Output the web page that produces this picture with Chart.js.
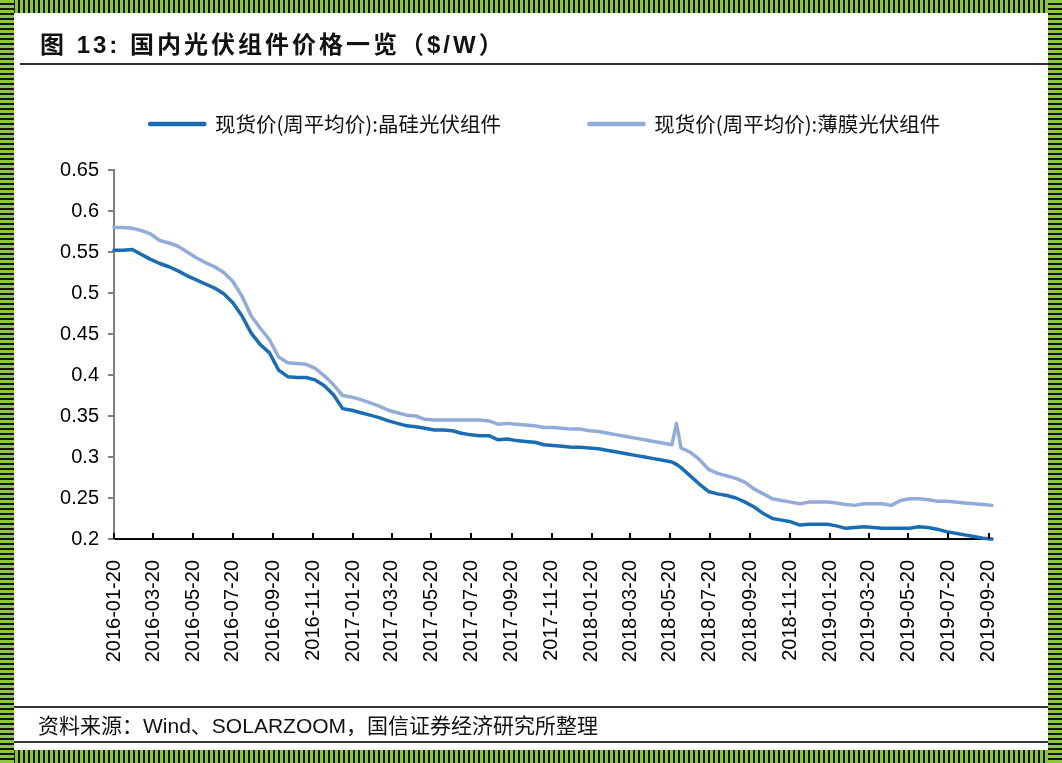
<!DOCTYPE html>
<html>
<head>
<meta charset="utf-8">
<script src="https://cdn.jsdelivr.net/npm/chart.js@4.4.0/dist/chart.umd.min.js"></script>
<style>
  html, body { margin: 0; padding: 0; background: #fff; }
  #wrap { position: relative; width: 1062px; height: 763px; overflow: hidden; background: #fff;
          font-family: "Liberation Sans", "Noto Sans CJK SC", sans-serif; }
  #chart { position: absolute; left: 0; top: 0; }
  .band { position: absolute; }
  #bTop { left: 0; top: 0; width: 1062px; height: 13px;
          background: repeating-linear-gradient(90deg, #8cc63f 0 3px, #151515 3px 5px); }
  #bBot { left: 0; top: 750px; width: 1062px; height: 13px;
          background: repeating-linear-gradient(90deg, #8cc63f 0 3px, #151515 3px 5px); }
  #bLeft { left: 0; top: 0; width: 14px; height: 763px;
           background: repeating-linear-gradient(180deg, #8cc63f 0 3px, #151515 3px 5px); }
  #bRight { left: 1048px; top: 0; width: 14px; height: 763px;
            background: repeating-linear-gradient(180deg, #8cc63f 0 3px, #151515 3px 5px); }
  .rule { position: absolute; height: 1.5px; background: #333; }
  #title { position: absolute; left: 40px; top: 25px; font-size: 24px; font-weight: bold;
           letter-spacing: 3px; color: #111; white-space: nowrap; }
  #source { position: absolute; left: 38px; top: 711px; font-size: 21px; line-height: 26px; color: #111;
            white-space: nowrap; font-family: "Noto Sans CJK SC", sans-serif; }
  #source .lat { font-family: "Liberation Sans", sans-serif; }
</style>
</head>
<body>
<div id="wrap">
  <canvas id="chart" width="1062" height="763"></canvas>
  <div id="title">图 13: 国内光伏组件价格一览（$/W）</div>
  <div class="rule" style="left:20px; top:63px; width:1028px;"></div>
  <div class="rule" style="left:14px; top:706px; width:1034px;"></div>
  <div id="source">资料来源：<span class="lat">Wind</span>、<span class="lat">SOLARZOOM</span>，国信证券经济研究所整理</div>
  <div class="rule" style="left:14px; top:741px; width:1034px;"></div>
  <div class="band" id="bTop"></div>
  <div class="band" id="bBot"></div>
  <div class="band" id="bLeft"></div>
  <div class="band" id="bRight"></div>
</div>
<script>
// weekly spot price, sampled every two weeks ($/W)
const dates = [
  '2016-01-20','2016-02-03','2016-02-17','2016-03-02','2016-03-16','2016-03-30','2016-04-13','2016-04-27',
  '2016-05-11','2016-05-25','2016-06-08','2016-06-22','2016-07-06','2016-07-20','2016-08-03','2016-08-17',
  '2016-08-31','2016-09-14','2016-09-28','2016-10-12','2016-10-26','2016-11-09','2016-11-23','2016-12-07',
  '2016-12-21','2017-01-04','2017-01-18','2017-02-01','2017-02-15','2017-03-01','2017-03-15','2017-03-29',
  '2017-04-12','2017-04-26','2017-05-10','2017-05-24','2017-06-07','2017-06-21','2017-07-05','2017-07-19',
  '2017-08-02','2017-08-16','2017-08-30','2017-09-13','2017-09-27','2017-10-11','2017-10-25','2017-11-08',
  '2017-11-22','2017-12-06','2017-12-20','2018-01-03','2018-01-17','2018-01-31','2018-02-14','2018-02-28',
  '2018-03-14','2018-03-28','2018-04-11','2018-04-25','2018-05-09','2018-05-23','2018-05-30','2018-06-06',
  '2018-06-20','2018-07-04','2018-07-18','2018-08-01','2018-08-15','2018-08-29','2018-09-12','2018-09-26',
  '2018-10-10','2018-10-24','2018-11-07','2018-11-21','2018-12-05','2018-12-19','2019-01-02','2019-01-16',
  '2019-01-30','2019-02-13','2019-02-27','2019-03-13','2019-03-27','2019-04-10','2019-04-24','2019-05-08',
  '2019-05-22','2019-06-05','2019-06-19','2019-07-03','2019-07-17','2019-07-31','2019-08-14','2019-08-28',
  '2019-09-11','2019-09-25'
];

const crystalline = [
  0.552,0.552,0.553,0.547,0.541,0.536,0.532,0.527,
  0.521,0.516,0.511,0.506,0.499,0.488,0.472,0.451,
  0.437,0.427,0.406,0.398,0.397,0.397,0.394,0.387,
  0.376,0.359,0.357,0.354,0.351,0.348,0.344,0.341,
  0.338,0.337,0.335,0.333,0.333,0.332,0.329,0.327,
  0.326,0.326,0.321,0.322,0.320,0.319,0.318,0.315,
  0.314,0.313,0.312,0.312,0.311,0.310,0.308,0.306,
  0.304,0.302,0.300,0.298,0.296,0.294,0.291,0.287,
  0.277,0.267,0.258,0.255,0.253,0.250,0.245,0.239,
  0.231,0.225,0.223,0.221,0.217,0.218,0.218,0.218,
  0.216,0.213,0.214,0.215,0.214,0.213,0.213,0.213,
  0.213,0.215,0.214,0.212,0.209,0.207,0.205,0.203,
  0.201,0.200
];

const thinFilm = [
  0.580,0.580,0.579,0.576,0.572,0.564,0.561,0.557,
  0.550,0.543,0.537,0.532,0.525,0.514,0.496,0.472,
  0.457,0.443,0.422,0.415,0.414,0.413,0.408,0.399,
  0.388,0.375,0.373,0.370,0.366,0.362,0.357,0.354,
  0.351,0.350,0.346,0.345,0.345,0.345,0.345,0.345,
  0.345,0.344,0.340,0.341,0.340,0.339,0.338,0.336,
  0.336,0.335,0.334,0.334,0.332,0.331,0.329,0.327,
  0.325,0.323,0.321,0.319,0.317,0.315,0.341,0.311,
  0.306,0.297,0.285,0.280,0.277,0.274,0.269,0.261,
  0.255,0.249,0.247,0.245,0.243,0.245,0.245,0.245,
  0.244,0.242,0.241,0.243,0.243,0.243,0.241,0.247,
  0.249,0.249,0.248,0.246,0.246,0.245,0.244,0.243,
  0.242,0.241
];

const tickLabels = [
  '2016-01-20','2016-03-20','2016-05-20','2016-07-20','2016-09-20','2016-11-20',
  '2017-01-20','2017-03-20','2017-05-20','2017-07-20','2017-09-20','2017-11-20',
  '2018-01-20','2018-03-20','2018-05-20','2018-07-20','2018-09-20','2018-11-20',
  '2019-01-20','2019-03-20','2019-05-20','2019-07-20','2019-09-20'
];

const yTicks = [0.2, 0.25, 0.3, 0.35, 0.4, 0.45, 0.5, 0.55, 0.6, 0.65];

const seriesNames = ['现货价(周平均价):晶硅光伏组件', '现货价(周平均价):薄膜光伏组件'];
const seriesColors = ['#1a6db3', '#93abd8'];

const day = s => Date.UTC(+s.slice(0, 4), +s.slice(5, 7) - 1, +s.slice(8, 10)) / 864e5;
const toPoints = vals => dates.map((d, i) => ({ x: day(d), y: vals[i] }));

// extra room between legend and plot
const legendGap = {
  id: 'legendGap',
  beforeInit(chart) {
    const fit = chart.legend.fit;
    chart.legend.fit = function () {
      fit.call(this);
      this.height += 25.75;
    };
  }
};

// x ticks point up into the plot
const innerTicks = {
  id: 'innerTicks',
  afterDraw(chart) {
    const { ctx, scales: { x } } = chart;
    ctx.save();
    ctx.strokeStyle = '#000';
    ctx.lineWidth = 2;
    x.ticks.forEach(t => {
      const px = Math.round(x.getPixelForValue(t.value));
      ctx.beginPath();
      ctx.moveTo(px, x.top);
      ctx.lineTo(px, x.top - 6);
      ctx.stroke();
    });
    ctx.restore();
  }
};

const tickFont = { family: 'Liberation Sans', size: 20 };

new Chart(document.getElementById('chart').getContext('2d'), {
  type: 'line',
  data: {
    datasets: [
      { label: seriesNames[0], data: toPoints(crystalline), borderColor: seriesColors[0], backgroundColor: seriesColors[0] },
      { label: seriesNames[1], data: toPoints(thinFilm), borderColor: seriesColors[1], backgroundColor: seriesColors[1] }
    ]
  },
  options: {
    responsive: false,
    animation: false,
    clip: false,
    layout: { padding: { top: 25.75, left: 50, right: 22, bottom: 0 } },
    elements: {
      line: { borderWidth: 3.5, tension: 0, borderJoinStyle: 'round', borderCapStyle: 'round' },
      point: { radius: 0 }
    },
    scales: {
      x: {
        type: 'linear',
        min: day('2016-01-20'),
        max: day('2019-09-25'),
        afterBuildTicks: axis => { axis.ticks = tickLabels.map(s => ({ value: day(s) })); },
        afterFit: axis => { axis.height = 224; },
        grid: { display: false },
        border: { color: '#000', width: 2 },
        ticks: {
          autoSkip: false,
          minRotation: 90,
          maxRotation: 90,
          padding: 13,
          color: '#000',
          font: tickFont,
          callback: (v, i) => tickLabels[i]
        }
      },
      y: {
        min: 0.2,
        max: 0.65,
        afterBuildTicks: axis => { axis.ticks = yTicks.map(v => ({ value: v })); },
        afterFit: axis => { axis.width = 64; },
        grid: { drawOnChartArea: false, drawTicks: true, tickLength: 6, color: '#808080', lineWidth: 2 },
        border: { color: '#808080', width: 2 },
        ticks: {
          padding: 9,
          color: '#000',
          font: tickFont,
          callback: v => String(+v.toFixed(2))
        }
      },
      // empty right axis: keeps plot right edge at the reference position
      yRight: {
        position: 'right',
        afterFit: axis => { axis.width = 48; },
        grid: { display: false },
        border: { display: false },
        ticks: { display: false }
      }
    },
    plugins: {
      legend: {
        position: 'top',
        labels: {
          boxWidth: 55,
          boxHeight: 1,
          padding: 88,
          color: '#111',
          font: { family: 'Noto Sans CJK SC', size: 20.5 }
        }
      },
      tooltip: { enabled: false }
    }
  },
  plugins: [legendGap, innerTicks]
});
</script>
</body>
</html>
